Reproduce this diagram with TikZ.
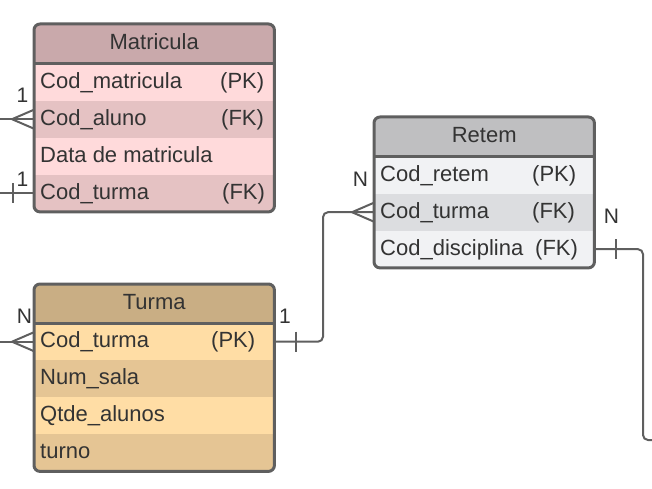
\documentclass[tikz,border=0pt]{standalone}
\usepackage{fontspec}
\setmainfont{Liberation Sans}
\usetikzlibrary{calc}
\definecolor{bordc}{HTML}{5F5F5F}
\definecolor{txtc}{HTML}{333333}
\definecolor{mhead}{HTML}{C9A9AB}
\definecolor{mlight}{HTML}{FFDADB}
\definecolor{mdark}{HTML}{E5C2C3}
\definecolor{thead}{HTML}{C9AE84}
\definecolor{tlight}{HTML}{FFDDA5}
\definecolor{tdark}{HTML}{E5C594}
\definecolor{rhead}{HTML}{BFBFC1}
\definecolor{rlight}{HTML}{F1F2F4}
\definecolor{rdark}{HTML}{DCDDE0}
\tikzset{
  rowbox/.style={draw=none, inner sep=0pt, minimum height=37pt, anchor=north west},
  fieldtxt/.style={inner sep=0pt, text=txtc, font=\fontsize{22}{26}\selectfont, anchor=base west},
  headtxt/.style={inner sep=0pt, text=txtc, font=\fontsize{22}{26}\selectfont, anchor=base},
  cardtxt/.style={inner sep=0pt, text=txtc, font=\fontsize{21}{25}\selectfont, anchor=base},
  border/.style={draw=bordc, line width=3pt, rounded corners=6pt},
  divider/.style={draw=bordc, line width=3pt},
  conn/.style={draw=bordc, line width=2pt, rounded corners=5pt},
  tickline/.style={draw=bordc, line width=2pt}
}
\newcommand{\erow}[7]{%
  \node[rowbox, fill=#4, minimum width=#3] (#1) at #2 {};
  \node[fieldtxt] (#1-f) at ([xshift=6pt,yshift=-6pt]#1.west) {#5};
  \node[fieldtxt] (#1-k) at ([xshift=#7,yshift=-6pt]#1.west) {#6};
}
\newcommand{\ehead}[6]{%
  \node[rowbox, fill=#4, minimum width=#3, minimum height=#6] (#1) at #2 {};
  \node[headtxt] (#1-t) at ([yshift=-5.5pt]#1.center) {#5};
}
\begin{document}
\begin{tikzpicture}[x=1pt,y=-1pt]
\useasboundingbox (0,0) rectangle (652,489);

% ---------- Matricula ----------
\begin{scope}
\clip[rounded corners=6pt] (34,24) rectangle (274,211.5);
\ehead{mh}{(34,24)}{240pt}{mhead}{Matricula}{39.5pt}
\erow{m1}{(34,63.5)}{240pt}{mlight}{Cod\_matricula}{(PK)}{186pt}
\erow{m2}{(34,100.5)}{240pt}{mdark}{Cod\_aluno}{(FK)}{187pt}
\erow{m3}{(34,137.5)}{240pt}{mlight}{Data de matricula}{}{187pt}
\erow{m4}{(34,174.5)}{240pt}{mdark}{Cod\_turma}{(FK)}{188pt}
\end{scope}
\draw[border] (mh.north west) rectangle (m4.south east);
\draw[divider] (mh.south west) -- (mh.south east);

% ---------- Turma ----------
\begin{scope}
\clip[rounded corners=6pt] (34,284) rectangle (274,471.5);
\ehead{th}{(34,284)}{240pt}{thead}{Turma}{39pt}
\erow{t1}{(34,323)}{240pt}{tlight}{Cod\_turma}{(PK)}{177pt}
\erow{t2}{(34,360)}{240pt}{tdark}{Num\_sala}{}{177pt}
\erow{t3}{(34,397)}{240pt}{tlight}{Qtde\_alunos}{}{177pt}
\erow{t4}{(34,434)}{240pt}{tdark}{turno}{}{177pt}
\end{scope}
\draw[border] (th.north west) rectangle (t4.south east);
\draw[divider] (th.south west) -- (th.south east);

% ---------- Retem ----------
\begin{scope}
\clip[rounded corners=6pt] (374,117) rectangle (594,267.5);
\ehead{rh}{(374,117)}{220pt}{rhead}{Retem}{39.5pt}
\erow{r1}{(374,156.5)}{220pt}{rlight}{Cod\_retem}{(PK)}{158pt}
\erow{r2}{(374,193.5)}{220pt}{rdark}{Cod\_turma}{(FK)}{158pt}
\erow{r3}{(374,230.5)}{220pt}{rlight}{Cod\_disciplina}{(FK)}{161pt}
\end{scope}
\draw[border] (rh.north west) rectangle (r3.south east);
\draw[divider] (rh.south west) -- (rh.south east);

% ---------- connectors ----------
\coordinate (a0) at (0,119);
\coordinate (b0) at (0,193);
\coordinate (c0) at (0,341.5);
\coordinate (tr) at (323,300);
\coordinate (dr) at (643,300);
\coordinate (e1) at (652,440);

% Matricula Cod_aluno (many)
\draw[conn] (a0 |- m2.west) -- (m2.west);
\draw[tickline] ([xshift=-22pt]m2.west) -- ([yshift=9.5pt]m2.west);
\draw[tickline] ([xshift=-22pt]m2.west) -- ([yshift=-9.5pt]m2.west);
\node[cardtxt] (l1) at (22.5,103) {1};

% Matricula Cod_turma (one)
\draw[conn] (b0 |- m4.west) -- (m4.west);
\draw[tickline] ([xshift=-21pt,yshift=10pt]m4.west) -- ([xshift=-21pt,yshift=-10pt]m4.west);
\node[cardtxt] (l2) at (22.5,186) {1};

% Turma Cod_turma (many) on the left
\draw[conn] (c0 |- t1.west) -- (t1.west);
\draw[tickline] ([xshift=-22pt]t1.west) -- ([yshift=9.5pt]t1.west);
\draw[tickline] ([xshift=-22pt]t1.west) -- ([yshift=-9.5pt]t1.west);
\node[cardtxt] (l3) at (24.5,323) {N};

% Turma -> Retem
\draw[conn] (t1.east) -- (t1.east -| tr) -- (r2.west -| tr) -- (r2.west);
\draw[tickline] ([xshift=22pt,yshift=10pt]t1.east) -- ([xshift=22pt,yshift=-10pt]t1.east);
\node[cardtxt] (l4) at (285,323) {1};
\draw[tickline] ([xshift=-22pt]r2.west) -- ([yshift=9.5pt]r2.west);
\draw[tickline] ([xshift=-22pt]r2.west) -- ([yshift=-9.5pt]r2.west);
\node[cardtxt] (l5) at (360.5,186) {N};

% Retem Cod_disciplina -> off to the right
\draw[conn] (r3.east) -- (r3.east -| dr) -- (e1 -| dr) -- (e1);
\draw[tickline] ([xshift=22pt,yshift=10pt]r3.east) -- ([xshift=22pt,yshift=-10pt]r3.east);
\node[cardtxt] (l6) at (611.5,223) {N};
\end{tikzpicture}
\end{document}
